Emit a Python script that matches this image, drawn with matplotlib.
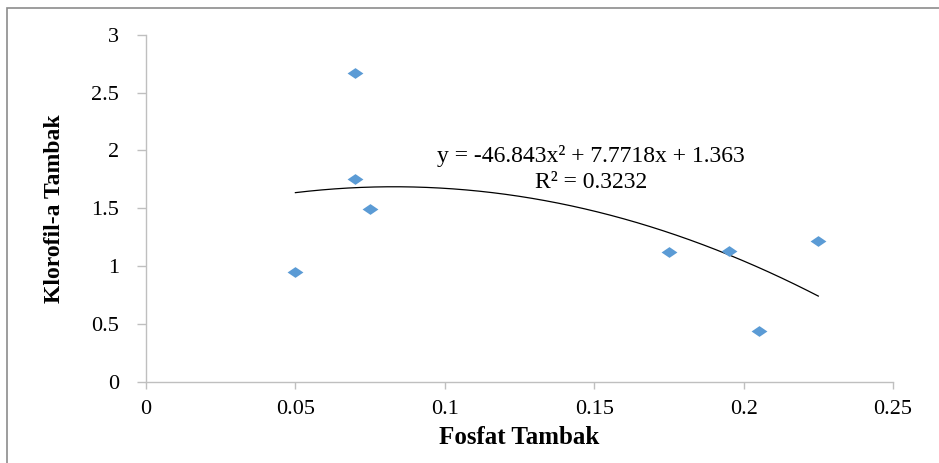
import numpy as np
import matplotlib.pyplot as plt
from matplotlib.patches import Rectangle
from matplotlib.path import Path

# data
fosfat = [0.05, 0.07, 0.07, 0.075, 0.175, 0.195, 0.205, 0.225]
klorofil = [0.95, 2.67, 1.75, 1.49, 1.12, 1.13, 0.44, 1.22]
coef = [-46.843, 7.7718, 1.363]  # poly trendline y = ax^2 + bx + c
r2 = 0.3232
xticks = [0, 0.05, 0.1, 0.15, 0.2, 0.25]
yticks = [0, 0.5, 1, 1.5, 2, 2.5, 3]

plt.rcParams['font.family'] = ['Liberation Serif', 'DejaVu Serif']

fig = plt.figure(figsize=(9.39, 4.63), dpi=100)
ax = fig.add_axes([146 / 939, 1 - 381.7 / 463, (893 - 146) / 939, (381.7 - 34.7) / 463])

# outer chart border (only top/left visible in the original)
fig.patches.append(Rectangle((7 / 939, -0.1), 1.2, 1 - 8 / 463 + 0.1, transform=fig.transFigure,
                             fill=False, edgecolor='#8c8c8c', linewidth=1.2))

# flattened diamond like the excel marker
diamond = Path([(-1, 0), (0, 0.68), (1, 0), (0, -0.68), (-1, 0)],
               [Path.MOVETO, Path.LINETO, Path.LINETO, Path.LINETO, Path.CLOSEPOLY])
ax.scatter(fosfat, klorofil, marker=diamond, s=130, color='#5b9bd5', zorder=3, linewidths=0)

xs = np.linspace(min(fosfat), max(fosfat), 200)
ax.plot(xs, np.polyval(coef, xs), color='black', linewidth=0.9)

ax.text(0.149, 1.95, 'y = -46.843x² + 7.7718x + 1.363', ha='center', va='center', fontsize=17)
ax.text(0.149, 1.72, 'R² = %.4f' % r2, ha='center', va='center', fontsize=17)

ax.set_xlim(0, 0.25)
ax.set_ylim(0, 3)
ax.set_xticks(xticks)
ax.set_xticklabels(['0', '0.05', '0.1', '0.15', '0.2', '0.25'])
ax.set_yticks(yticks)
ax.set_yticklabels(['0', '0.5', '1', '1.5', '2', '2.5', '3'])
ax.tick_params(labelsize=16, color='#bfbfbf', width=1)
ax.tick_params(axis='x', length=5, pad=8)
ax.tick_params(axis='y', length=6.5, pad=13)

for s in ['top', 'right']:
    ax.spines[s].set_visible(False)
for s in ['left', 'bottom']:
    ax.spines[s].set_color('#bfbfbf')
    ax.spines[s].set_linewidth(1)

ax.set_xlabel('Fosfat Tambak', fontsize=18, fontweight='bold', labelpad=5)
ax.set_ylabel('Klorofil-a Tambak', fontsize=17, fontweight='bold', labelpad=19)

fig.savefig('out.png', dpi=100)
